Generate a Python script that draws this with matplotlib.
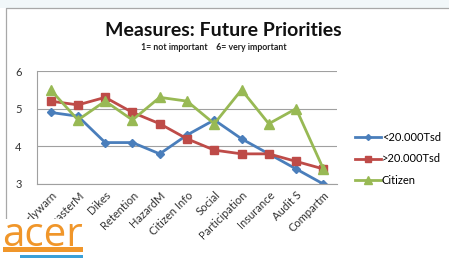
import matplotlib
matplotlib.use('Agg')
import matplotlib.pyplot as plt
from matplotlib.patches import Rectangle
from matplotlib.lines import Line2D
import numpy as np

plt.rcParams['font.family'] = ['Lato', 'DejaVu Sans']

categories = ['Earlywarn', 'DisasterM', 'Dikes', 'Retention', 'HazardM', 'Citizen Info',
              'Social', 'Participation', 'Insurance', 'Audit S', 'Compartm']
small_towns = [4.9, 4.8, 4.1, 4.1, 3.8, 4.3, 4.7, 4.2, 3.8, 3.4, 3.0]
large_towns = [5.2, 5.1, 5.3, 4.9, 4.6, 4.2, 3.9, 3.8, 3.8, 3.6, 3.4]
citizen = [5.5, 4.7, 5.2, 4.7, 5.3, 5.2, 4.6, 5.5, 4.6, 5.0, 3.4]
series_names = ['<20.000Tsd', '>20.000Tsd', 'Citizen']

W, H = 449, 258
fig = plt.figure(figsize=(W/100, H/100), dpi=100)
fig.patch.set_facecolor('white')

# background strip at top + slide frame
fig.patches.append(Rectangle((0, 1-8/H), 1, 8/H, transform=fig.transFigure,
                             facecolor='#f1f7f9', edgecolor='none', zorder=0))
fig.lines.append(Line2D([6/W, 6/W, 1], [0, 1-8/H, 1-8/H], transform=fig.transFigure,
                        color='#a8a8a8', linewidth=0.9, zorder=1))

sub = fig.add_axes([37/W, 74/H, 300/W, 113/H])
x = np.arange(len(categories))
sub.plot(x, small_towns, color='#4a7ebb', marker='D', markersize=4, linewidth=2, label=series_names[0])
sub.plot(x, large_towns, color='#be4b48', marker='s', markersize=6, linewidth=2, label=series_names[1])
sub.plot(x, citizen, color='#98b954', marker='^', markersize=7, linewidth=2, label=series_names[2])

sub.set_xlim(-0.5, len(categories)-0.5)
sub.set_ylim(3, 6)
sub.set_yticks([3, 4, 5, 6])
sub.yaxis.grid(True, color='#a0a0a0', linewidth=0.8)
sub.set_axisbelow(True)
for s in ['top', 'right']:
    sub.spines[s].set_visible(False)
for s in ['left', 'bottom']:
    sub.spines[s].set_color('#a0a0a0')
    sub.spines[s].set_linewidth(0.8)
sub.tick_params(axis='both', length=0, labelsize=8, colors='#333333')
sub.tick_params(axis='y', pad=11)
sub.set_xticks(x)
sub.set_xticklabels(categories, rotation=45, ha='right', va='top', rotation_mode='anchor')
sub.tick_params(axis='x', pad=4)

fig.text(223/W, 1-30/H, 'Measures: Future Priorities', ha='center', va='center',
         fontsize=14, fontweight='bold', color='#111111')
fig.text(214/W, 1-48/H, '1= not important    6= very important', ha='center', va='center',
         fontsize=6.3, fontweight='bold', color='#222222')

leg = sub.legend(loc='center left', bbox_to_anchor=((355-37)/300, (258-159-74)/113), frameon=False,
                 fontsize=8, handlelength=2.3, labelspacing=0.95, handletextpad=0.1,
                 borderaxespad=0, borderpad=0, markerscale=0.75)

# logo
fig.patches.append(Rectangle((0, 0), 88/W, 39/H, transform=fig.transFigure,
                             facecolor='white', edgecolor='none', zorder=5))
fig.text(2/W, 12/H, 'acer', ha='left', va='baseline', fontsize=29, color='#f0962a', zorder=6,
         family=['Open Sans', 'DejaVu Sans'])
fig.patches.append(Rectangle((3/W, 6/H), 80/W, 5/H, transform=fig.transFigure,
                             facecolor='#f0962a', edgecolor='none', zorder=6))
fig.patches.append(Rectangle((20/W, 0), 63/W, 3/H, transform=fig.transFigure,
                             facecolor='#3aa0d8', edgecolor='none', zorder=6))

fig.savefig('out.png', dpi=100)
